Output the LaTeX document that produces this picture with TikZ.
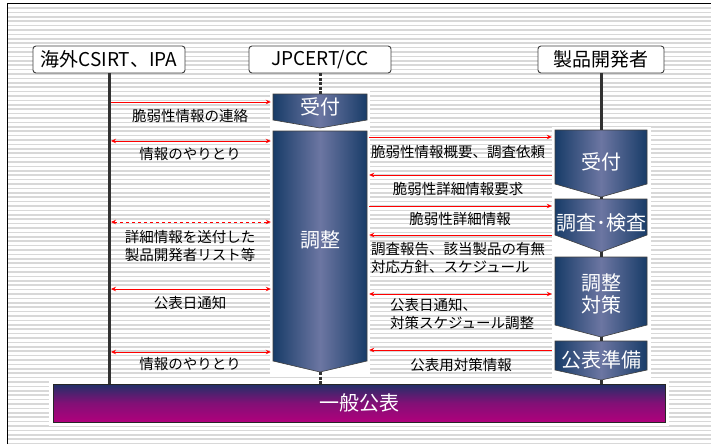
\documentclass[tikz,border=0pt]{standalone}
\usepackage{fontspec}
\setmainfont{Noto Sans CJK JP}
\usetikzlibrary{arrows.meta, positioning}

\definecolor{navy}{RGB}{24,60,104}
\definecolor{slate}{RGB}{108,118,162}
\definecolor{barTop}{RGB}{32,48,104}
\definecolor{barMid}{RGB}{130,16,118}
\definecolor{barBot}{RGB}{176,0,124}
\definecolor{stripe}{RGB}{216,216,216}
\definecolor{lifeline}{RGB}{50,50,50}

\begin{document}
\begin{tikzpicture}[x=1pt, y=-1pt,
    actor/.style={draw=black!75, line width=0.9pt, fill=white, rounded corners=3pt, minimum height=27pt, inner sep=0pt, font=\fontsize{19}{22}\selectfont},
    chev/.style={draw=black!75, line width=0.6pt, left color=navy, right color=navy, middle color=slate},
    stage/.style={text=white, minimum width=94pt, inner sep=0pt, align=center, font=\fontsize{20}{22}\selectfont},
    bar/.style={draw=black!85, line width=1pt, top color=barTop, bottom color=barBot, middle color=barMid, text=white, minimum width=612pt, minimum height=38pt, inner sep=0pt, font=\fontsize{20}{22}\selectfont},
    life/.style={lifeline, line width=3pt},
    msg/.style={red, line width=0.9pt, shorten >=2pt, shorten <=2pt},
    lbl/.style={font=\fontsize{14.5}{18}\selectfont, inner sep=0pt, align=center},
    >={Stealth[length=5pt, width=4.5pt]}]
    \useasboundingbox (0,0) rectangle (711,444);

    % Striped background and frame
    \fill[white] (0,0) rectangle (711,444);
    \foreach \y in {8,12.4,...,444} {
        \draw[stripe, line width=1.6pt] (7,\y) -- (711,\y);
    }
    \draw[black, line width=1pt] (7,444) -- (7,4) -- (711,4);

    % White backing behind the columns
    \fill[white] (270,91) rectangle (370,376);
    \fill[white] (552,127) rectangle (651,383);
    \fill[white] (49,380) rectangle (669,426);

    % Parties
    \node[actor, minimum width=152pt] (csirt) at (109,59.5) {海外CSIRT、IPA};
    \node[actor, minimum width=142pt] (jpcert) at (320,59.5) {JPCERT/CC};
    \node[actor, minimum width=126pt] (dev) at (601,59.5) {製品開発者};

    % Public release
    \node[bar] (pub) at (359,403) {一般公表};

    % JPCERT/CC stages
    \path[chev] (273,94) coordinate (topJ1) -- (367,94) -- (367,120) -- (320,128) coordinate (tipJ1) -- (273,120) -- cycle;
    \path[chev] (273,131) -- (367,131) -- (367,361) -- (320,372) coordinate (tipJ2) -- (273,361) -- cycle;
    \node[stage] (recvJ) at (320,107) {受付};
    \node[stage] (adjJ) at (320,240) {調整};

    % Developer stages
    \path[chev] (555,130) coordinate (topD1) -- (647,130) -- (647,184) -- (601,197) coordinate (tipD1) -- (555,184) -- cycle;
    \path[chev] (555,199) coordinate (topD2) -- (647,199) -- (647,235) -- (601,252) coordinate (tipD2) -- (555,235) -- cycle;
    \path[chev] (555,257) coordinate (topD3) -- (647,257) -- (647,325) -- (601,337) coordinate (tipD3) -- (555,325) -- cycle;
    \path[chev] (555,341) coordinate (topD4) -- (647,341) -- (647,370) -- (601,380) coordinate (tipD4) -- (555,370) -- cycle;
    \node[stage] (recvD) at (601,162) {受付};
    \node[stage] (checkD) at (601,223) {調査･検査};
    \node[stage] (adjD) at (601,294) {調整\\対策};
    \node[stage] (prepD) at (601,360) {公表準備};

    % Lifelines
    \draw[life] (csirt.south) -- (csirt.south |- pub.north);
    \draw[life, dash pattern=on 3pt off 1.5pt] (jpcert.south) -- (jpcert.south |- topJ1);
    \draw[life, dash pattern=on 3pt off 1.5pt] (tipJ2) -- (tipJ2 |- pub.north);
    \draw[life] (dev.south) -- (dev.south |- topD1);
    \draw[life] (tipD1) -- (tipD1 |- topD2);
    \draw[life] (tipD2) -- (tipD2 |- topD3);
    \draw[life] (tipD3) -- (tipD3 |- topD4);
    \draw[life] (tipD4) -- (tipD4 |- pub.north);

    % Overseas CSIRT <-> JPCERT/CC
    \draw[msg, ->] (csirt.south |- 0,102) -- (recvJ.west |- 0,102);
    \node[lbl] (m1) at (190,116) {脆弱性情報の連絡};
    \draw[msg, <->] (csirt.south |- 0,141) -- (adjJ.west |- 0,141);
    \node[lbl] (m2) at (190,154) {情報のやりとり};
    \draw[msg, <->, dashed] (csirt.south |- 0,222) -- (adjJ.west |- 0,222);
    \node[lbl] (m3) at (190,246) {詳細情報を送付した\\製品開発者リスト等};
    \draw[msg, <->] (csirt.south |- 0,289) -- (adjJ.west |- 0,289);
    \node[lbl] (m4) at (190,303) {公表日通知};
    \draw[msg, <->] (csirt.south |- 0,352) -- (adjJ.west |- 0,352);
    \node[lbl] (m5) at (190,364) {情報のやりとり};

    % JPCERT/CC <-> developer
    \draw[msg, ->] (adjJ.east |- 0,137) -- (recvD.west |- 0,137);
    \node[lbl, anchor=west] (d1) at (371,152) {脆弱性情報概要、調査依頼};
    \draw[msg, <-] (adjJ.east |- 0,175) -- (recvD.west |- 0,175);
    \node[lbl] (d2) at (458,189) {脆弱性詳細情報要求};
    \draw[msg, ->] (adjJ.east |- 0,206) -- (checkD.west |- 0,206);
    \node[lbl] (d3) at (460,219) {脆弱性詳細情報};
    \draw[msg, <-] (adjJ.east |- 0,235) -- (checkD.west |- 0,235);
    \node[lbl, anchor=west, align=left] (d4) at (371,258) {調査報告、該当製品の有無\\対応方針、スケジュール};
    \draw[msg, <->] (adjJ.east |- 0,294) -- (adjD.west |- 0,294);
    \node[lbl, anchor=west, align=left] (d5) at (390,314) {公表日通知、\\対策スケジュール調整};
    \draw[msg, <-] (adjJ.east |- 0,350) -- (prepD.west |- 0,350);
    \node[lbl] (d6) at (461,365) {公表用対策情報};
\end{tikzpicture}
\end{document}
